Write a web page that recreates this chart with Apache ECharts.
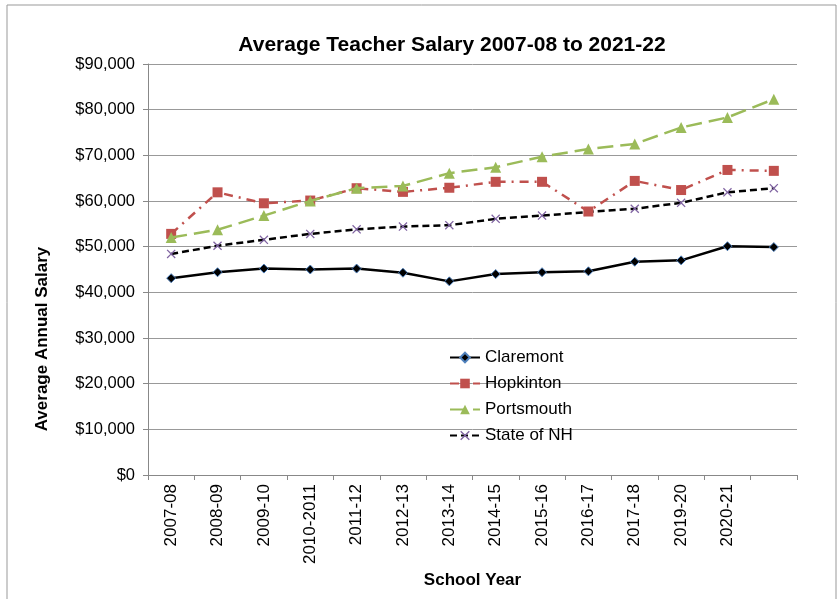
<!DOCTYPE html>
<html lang="en">
<head>
<meta charset="UTF-8">
<title>Average Teacher Salary</title>
<style type="text/css">
  html, body { margin: 0; padding: 0; background: #fff; }
  #main { width: 838px; height: 599px; }
</style>
<script type="text/javascript" src="https://cdn.jsdelivr.net/npm/echarts@6/dist/echarts.min.js"></script>
</head>
<body>
<div id="main"></div>
<script type="text/javascript">
// school years (the last one has no label in the original)
var years = ['2007-08', '2008-09', '2009-10', '2010-2011', '2011-12', '2012-13', '2013-14',
  '2014-15', '2015-16', '2016-17', '2017-18', '2019-20', '2020-21', ''];

var claremont = [43100, 44400, 45200, 45000, 45200, 44300, 42400, 44000, 44400, 44600, 46700, 47000, 50100, 49900];
var hopkinton = [52800, 61900, 59500, 60100, 62800, 62000, 62900, 64200, 64200, 57700, 64400, 62400, 66800, 66600];
var portsmouth = [52000, 53700, 56800, 60000, 62800, 63300, 66100, 67400, 69700, 71400, 72500, 76100, 78300, 82300];
var stateNH = [48400, 50200, 51500, 52800, 53800, 54400, 54700, 56100, 56800, 57600, 58300, 59600, 61900, 62800];

var yTicks = [0, 10000, 20000, 30000, 40000, 50000, 60000, 70000, 80000, 90000];

var chart = echarts.init(document.getElementById('main'));

// little "x" marker
var crossPath = 'path://M1,0L5,4L9,0L10,1L6,5L10,9L9,10L5,6L1,10L0,9L4,5L0,1Z';

function money(v) {
  return '$' + v.toString().replace(/\B(?=(\d{3})+(?!\d))/g, ',');
}

chart.setOption({
  animation: false,
  backgroundColor: '#fff',
  textStyle: { fontFamily: 'Arial, "Liberation Sans", sans-serif' },
  graphic: [{
    type: 'rect',
    shape: { x: 7, y: 5, width: 829, height: 600 },
    style: { fill: 'none', stroke: '#999', lineWidth: 1 }
  }, {
    // y axis title sits lower than the plot centre in the original
    type: 'text',
    x: 42,
    y: 339,
    rotation: Math.PI / 2,
    style: {
      text: 'Average Annual Salary',
      fontSize: 17,
      fontWeight: 'bold',
      fontFamily: 'Arial, "Liberation Sans", sans-serif',
      fill: '#000',
      align: 'center',
      verticalAlign: 'middle'
    }
  }],
  title: {
    text: 'Average Teacher Salary 2007-08 to 2021-22',
    left: 447,
    top: 30,
    textAlign: 'center',
    textStyle: { fontSize: 21, fontWeight: 'bold', color: '#000' }
  },
  legend: {
    orient: 'vertical',
    left: 449,
    top: 349,
    padding: 0,
    itemGap: 9,
    itemWidth: 30,
    itemHeight: 12,
    textStyle: { fontSize: 17, color: '#000' },
    data: ['Claremont', 'Hopkinton', 'Portsmouth', 'State of NH']
  },
  grid: { left: 148, right: 41, top: 64, bottom: 124 },
  xAxis: {
    type: 'category',
    data: years,
    boundaryGap: true,
    name: 'School Year',
    nameLocation: 'middle',
    nameGap: 91,
    nameTextStyle: { fontSize: 17, fontWeight: 'bold', color: '#000' },
    axisLine: { lineStyle: { color: '#888' } },
    axisTick: { show: true, alignWithLabel: false, length: 5, lineStyle: { color: '#888' } },
    axisLabel: { rotate: 90, fontSize: 17, color: '#000', interval: 0, margin: 9 }
  },
  yAxis: {
    type: 'value',
    min: 0,
    max: 90000,
    interval: 10000,
    axisLine: { show: true, lineStyle: { color: '#888' } },
    axisTick: { show: true, length: 5, lineStyle: { color: '#888' } },
    axisLabel: {
      fontSize: 16.5, color: '#000', margin: 13,
      formatter: function (v) { return yTicks.indexOf(v) >= 0 ? money(v) : ''; }
    },
    splitLine: { lineStyle: { color: '#999', width: 1 } }
  },
  series: [
    {
      name: 'Claremont',
      type: 'line',
      data: claremont,
      symbol: 'diamond',
      symbolSize: 9,
      itemStyle: { color: '#000', borderColor: '#4f81bd', borderWidth: 1 },
      lineStyle: { color: '#000', width: 2.5, type: 'solid' },
      z: 5
    },
    {
      name: 'Hopkinton',
      type: 'line',
      data: hopkinton,
      symbol: 'rect',
      symbolSize: 10,
      itemStyle: { color: '#c0504d' },
      lineStyle: { color: '#c0504d', width: 2.5, type: [9, 6, 2, 6] },
      z: 3
    },
    {
      name: 'Portsmouth',
      type: 'line',
      data: portsmouth,
      symbol: 'triangle',
      symbolSize: 11,
      itemStyle: { color: '#9bbb59' },
      lineStyle: { color: '#9bbb59', width: 2.5, type: [16, 7] },
      z: 4
    },
    {
      name: 'State of NH',
      type: 'line',
      data: stateNH,
      symbol: crossPath,
      symbolSize: 9,
      itemStyle: { color: '#8064a2' },
      lineStyle: { color: '#000', width: 2.5, type: [7, 4] },
      z: 2
    }
  ]
});
</script>
</body>
</html>
